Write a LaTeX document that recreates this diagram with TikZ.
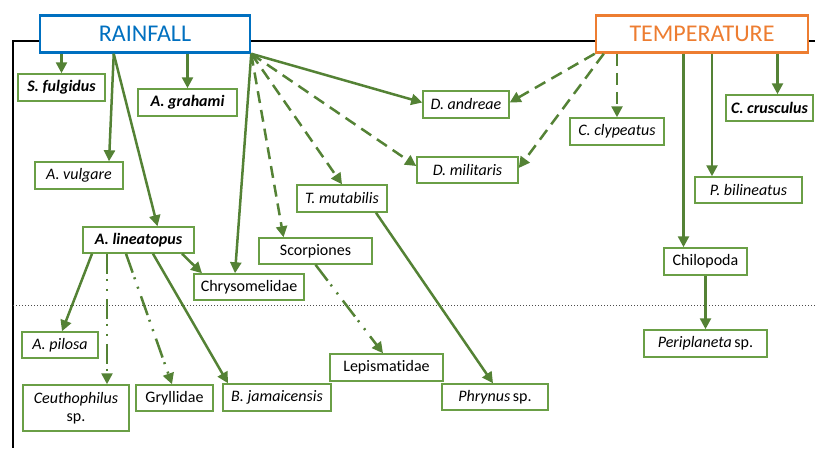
\documentclass[tikz,border=0pt]{standalone}
\usepackage{fontspec}
\setmainfont{Carlito}[Ligatures={NoCommon,NoRare}]
\usetikzlibrary{arrows.meta}
\definecolor{lgreen}{HTML}{548235}
\definecolor{bgreen}{HTML}{6A9F46}
\definecolor{rblue}{HTML}{0070C0}
\definecolor{torange}{HTML}{ED7D31}
\tikzset{
  sp/.style={draw=bgreen, line width=1.5pt, fill=white, inner sep=0pt, font=\fontsize{16}{18}\selectfont},
  hdr/.style={line width=2.5pt, fill=white, inner sep=0pt, font=\fontsize{24}{26}\selectfont},
  arr/.style={draw=lgreen, line width=2.5pt, -{Triangle[length=11pt,width=11pt]}},
  dsh/.style={arr, dash pattern=on 12pt off 7pt},
  ddot/.style={arr, dash pattern=on 20pt off 5pt on 2pt off 8pt on 2pt off 8pt},
}
\begin{document}
\begin{tikzpicture}[x=1pt,y=-1pt]
\useasboundingbox (0,0) rectangle (815,448);
% frame and separator
\draw[line width=2pt] (815,41) -| (13,448);
\draw[line width=1pt, dotted, black!70] (13,305) -- (815,305);
% headers
\node[hdr, draw=rblue, text=rblue, minimum width=210, minimum height=37] (rain) at (145,34) {RAINFALL};
\node[hdr, draw=torange, text=torange, minimum width=212, minimum height=37] (temp) at (702,34) {TEMPERATURE};
% species nodes
\node[sp, minimum width=87, minimum height=27] (sf) at (61.5,87.5) {\textbf{\textit{S. fulgidus}}};
\node[sp, minimum width=99, minimum height=27] (ag) at (187.5,102.5) {\textbf{\textit{A. grahami}}};
\node[sp, minimum width=86, minimum height=27] (da) at (466,104.5) {\textit{D. andreae}};
\node[sp, minimum width=94, minimum height=27] (cc) at (617,131.5) {\textit{C. clypeatus}};
\node[sp, minimum width=87, minimum height=26] (ccr) at (769.5,108) {\textbf{\textit{C. crusculus}}};
\node[sp, minimum width=88, minimum height=27] (av) at (79,175.5) {\textit{A. vulgare}};
\node[sp, minimum width=111, minimum height=26] (al) at (138.5,240) {\textbf{\textit{A. lineatopus}}};
\node[sp, minimum width=110, minimum height=26] (chr) at (249,287) {Chrysomelidae};
\node[sp, minimum width=113, minimum height=26] (sco) at (315.5,251) {Scorpiones};
\node[sp, minimum width=90, minimum height=27] (tm) at (342,198.5) {\textit{T. mutabilis}};
\node[sp, minimum width=101, minimum height=26] (dm) at (467.5,170) {\textit{D. militaris}};
\node[sp, minimum width=107, minimum height=26] (pb) at (748.5,190) {\textit{P. bilineatus}};
\node[sp, minimum width=83, minimum height=27] (chil) at (705.5,261.5) {Chilopoda};
\node[sp, minimum width=76, minimum height=26] (ap) at (60,345) {\textit{A. pilosa}};
\node[sp, minimum width=106, minimum height=46, align=center] (ceu) at (76,408) {\textit{Ceuthophilus}\\sp.};
\node[sp, minimum width=77, minimum height=26] (gry) at (174.5,398) {Gryllidae};
\node[sp, minimum width=108, minimum height=27] (bj) at (277,397.5) {\textit{B. jamaicensis}};
\node[sp, minimum width=113, minimum height=27] (lep) at (386.5,367.5) {Lepismat\kern0pt idae};
\node[sp, minimum width=106, minimum height=26] (phr) at (495,397) {\textit{Phrynus}\,sp.};
\node[sp, minimum width=123, minimum height=27] (peri) at (705.5,343.5) {\textit{Periplaneta}\,sp.};
% helper coordinates
\coordinate (rs) at ([xshift=75pt]rain.south west);
\coordinate (avin) at ([xshift=30pt]av.north);
\coordinate (alin) at ([xshift=19pt]al.north);
\coordinate (chrin) at ([xshift=-14pt]chr.north);
\coordinate (scoin) at ([xshift=-32pt]sco.north);
\coordinate (dmw) at ([yshift=4pt]dm.west);
\coordinate (daw) at ([yshift=2pt]da.west);
\coordinate (dae) at ([yshift=2pt]da.east);
\coordinate (dme) at ([yshift=2pt]dm.east);
\coordinate (ts2) at ([xshift=9pt]temp.south west);
\coordinate (chilin) at ([xshift=-22pt]chil.north);
\coordinate (pbin) at ([xshift=-36.5pt]pb.north);
\coordinate (ccrin) at ([xshift=8pt]ccr.north);
\coordinate (al1) at ([xshift=-46.5pt]al.south);
\coordinate (al2) at ([xshift=-31.5pt]al.south);
\coordinate (al3) at ([xshift=-12.5pt]al.south);
\coordinate (al4) at ([xshift=14.5pt]al.south);
\coordinate (al5) at ([xshift=43.5pt]al.south);
\coordinate (apin) at ([xshift=2pt]ap.north);
\coordinate (ceuin) at ([xshift=31pt]ceu.north);
\coordinate (gryin) at ([xshift=-2.5pt]gry.north);
\coordinate (bjin) at ([xshift=-49pt]bj.north);
\coordinate (chrin2) at ([xshift=-47pt]chr.north);
\coordinate (lepin) at ([xshift=-3.5pt]lep.north);
\coordinate (tmout) at ([xshift=34pt]tm.south);
\coordinate (phrin) at ([xshift=-2pt]phr.north);
% rainfall connectors
\draw[arr] (sf.north |- rain.south) -- (sf.north);
\draw[arr] (ag.north |- rain.south) -- (ag.north);
\draw[arr] (rs) -- (avin);
\draw[arr] (rs) -- (alin);
\draw[arr] (rain.south east) -- (chrin);
\draw[dsh] (rain.south east) -- (scoin);
\draw[dsh] (rain.south east) -- (tm.north);
\draw[dsh] (rain.south east) -- (dmw);
\draw[arr] (rain.south east) -- (daw);
% temperature connectors
\draw[dsh] (temp.south west) -- (dae);
\draw[dsh] (ts2) -- (dme);
\draw[dsh] (cc.north |- temp.south) -- (cc.north);
\draw[arr] (temp.south -| chilin) -- (chilin);
\draw[arr] (temp.south -| pbin) -- (pbin);
\draw[arr] (temp.south -| ccrin) -- (ccrin);
% lineatopus connectors
\draw[arr] (al1) -- (apin);
\draw[ddot] (al2) -- (ceuin);
\draw[ddot] (al3) -- (gryin);
\draw[arr] (al4) -- (bjin);
\draw[arr] (al5) -- (chrin2);
% others
\draw[ddot] (sco.south) -- (lepin);
\draw[arr] (tmout) -- (phrin);
\draw[arr] (chil.south) -- (peri.north);
\end{tikzpicture}
\end{document}
